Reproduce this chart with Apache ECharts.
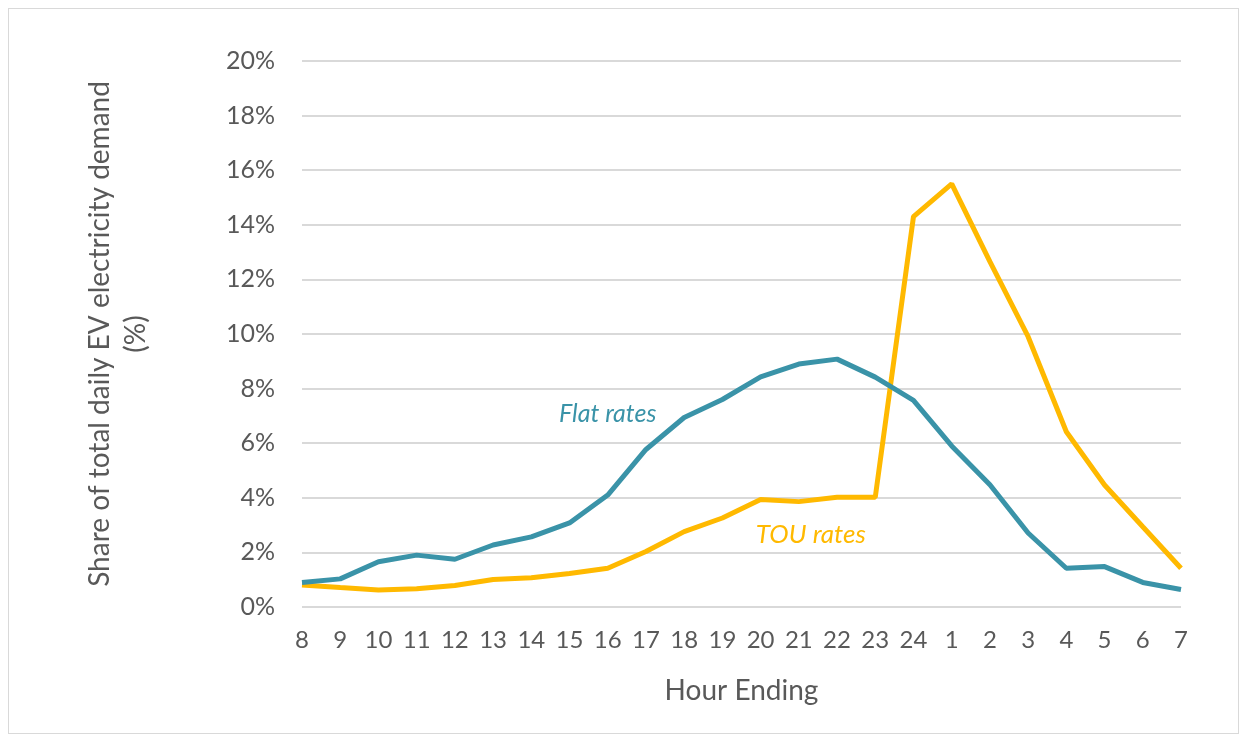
<!DOCTYPE html>
<html>
<head>
<meta charset="utf-8">
<script src="https://cdn.jsdelivr.net/npm/echarts@6/dist/echarts.min.js"></script>
<style>
html,body{margin:0;padding:0;background:#fff;}
#frame{position:absolute;left:8px;top:8px;width:1231px;height:726px;border:1.5px solid #d9d9d9;box-sizing:border-box;}
#chart{position:absolute;left:0;top:0;width:1244px;height:738px;}
</style>
</head>
<body>
<div id="frame"></div>
<div id="chart"></div>
<script>
const hours = ['8','9','10','11','12','13','14','15','16','17','18','19','20','21','22','23','24','1','2','3','4','5','6','7'];
const flatRates = [0.9,1.03,1.66,1.9,1.75,2.27,2.57,3.08,4.1,5.77,6.94,7.6,8.43,8.9,9.08,8.42,7.57,5.9,4.48,2.71,1.42,1.48,0.9,0.64];
const touRates = [0.81,0.71,0.62,0.67,0.79,1.01,1.07,1.23,1.42,2.03,2.76,3.26,3.94,3.86,4.02,4.02,14.3,15.5,12.65,9.9,6.42,4.47,2.94,1.42];
const yTicks = {min:0, max:20, interval:2};
const flatLabel = {text:'Flat rates', at:['16', 7.07]};
const touLabel = {text:'TOU rates', at:['21', 2.65]};

const FONT = 'Lato, "Open Sans", sans-serif';
const TEXT = '#595959';
const TEAL = '#3A93A8';
const GOLD = '#FFB900';

const chart = echarts.init(document.getElementById('chart'), null, {renderer:'canvas'});
chart.setOption({
  animation:false,
  grid:{left:302, right:63, top:61, bottom:131},
  xAxis:{
    type:'category', data:hours, boundaryGap:false,
    axisLine:{show:false}, axisTick:{show:false},
    axisLabel:{color:TEXT, fontSize:24, fontFamily:FONT, margin:21, interval:0},
    name:'Hour Ending', nameLocation:'middle', nameGap:70,
    nameTextStyle:{color:TEXT, fontSize:28, fontFamily:FONT}
  },
  yAxis:{
    type:'value', min:yTicks.min, max:yTicks.max, interval:yTicks.interval,
    axisLine:{show:false}, axisTick:{show:false},
    axisLabel:{color:TEXT, fontSize:25, fontFamily:FONT, margin:27, formatter:v=>v+'%'},
    splitLine:{lineStyle:{color:'#d9d9d9', width:2}},
    name:'Share of total daily EV electricity demand\n(%)', nameLocation:'middle', nameGap:148,
    nameTextStyle:{color:TEXT, fontSize:28, fontFamily:FONT, lineHeight:36}
  },
  series:[
    {name:'Flat rates', type:'line', data:flatRates, symbol:'none',
     lineStyle:{color:TEAL, width:5}, itemStyle:{color:TEAL}, z:3,
     markPoint:{symbol:'circle', symbolSize:0, silent:true,
       data:[{coord:flatLabel.at, value:flatLabel.text,
         label:{show:true, formatter:flatLabel.text, color:TEAL, fontSize:25, fontStyle:'italic', fontFamily:FONT, position:'inside'}}]}
    },
    {name:'TOU rates', type:'line', data:touRates, symbol:'none',
     lineStyle:{color:GOLD, width:5}, itemStyle:{color:GOLD}, z:2,
     markPoint:{symbol:'circle', symbolSize:0, silent:true,
       data:[{coord:touLabel.at, value:touLabel.text,
         label:{show:true, formatter:touLabel.text, color:GOLD, fontSize:26, fontStyle:'italic', fontFamily:FONT, position:'inside', offset:[12,0]}}]}
    }
  ]
});
</script>
</body>
</html>
